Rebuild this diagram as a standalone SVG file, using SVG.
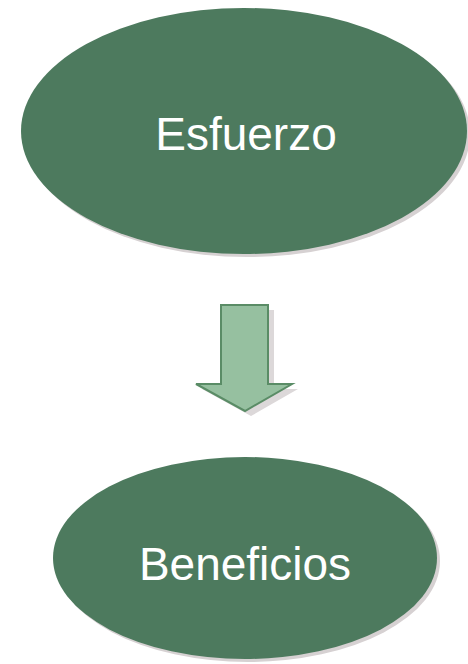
<svg xmlns="http://www.w3.org/2000/svg" width="468" height="664" viewBox="0 0 468 664">
<style>
.node{fill:#4d7a5e}
.shadow{fill:#d6d1d2}
.label{fill:#ffffff;font-family:"Liberation Sans",Arial,sans-serif;font-size:46px;text-anchor:middle}
.arrow{fill:#96c0a0;stroke:#5a8c66;stroke-width:2;stroke-linejoin:miter}
.arrowshadow{fill:#dcd8d9}
</style>
<rect width="468" height="664" fill="#ffffff"/>
<g id="esfuerzo">
<ellipse class="shadow" cx="247" cy="134" rx="223" ry="123"/>
<ellipse class="node" cx="244" cy="131" rx="223" ry="123"/>
<text class="label" x="246" y="150">Esfuerzo</text>
</g>
<g id="beneficios">
<ellipse class="shadow" cx="248" cy="561" rx="192" ry="101"/>
<ellipse class="node" cx="245" cy="558" rx="192" ry="101"/>
<text class="label" x="245" y="580">Beneficios</text>
</g>
<g id="connectors">
<polygon class="arrowshadow" points="227,310 274,310 274,389 298,389 251,416 202,389 227,389"/>
<polygon class="arrow" points="221,305 268,305 268,384 292,384 245,411 196,384 221,384"/>
</g>
</svg>
